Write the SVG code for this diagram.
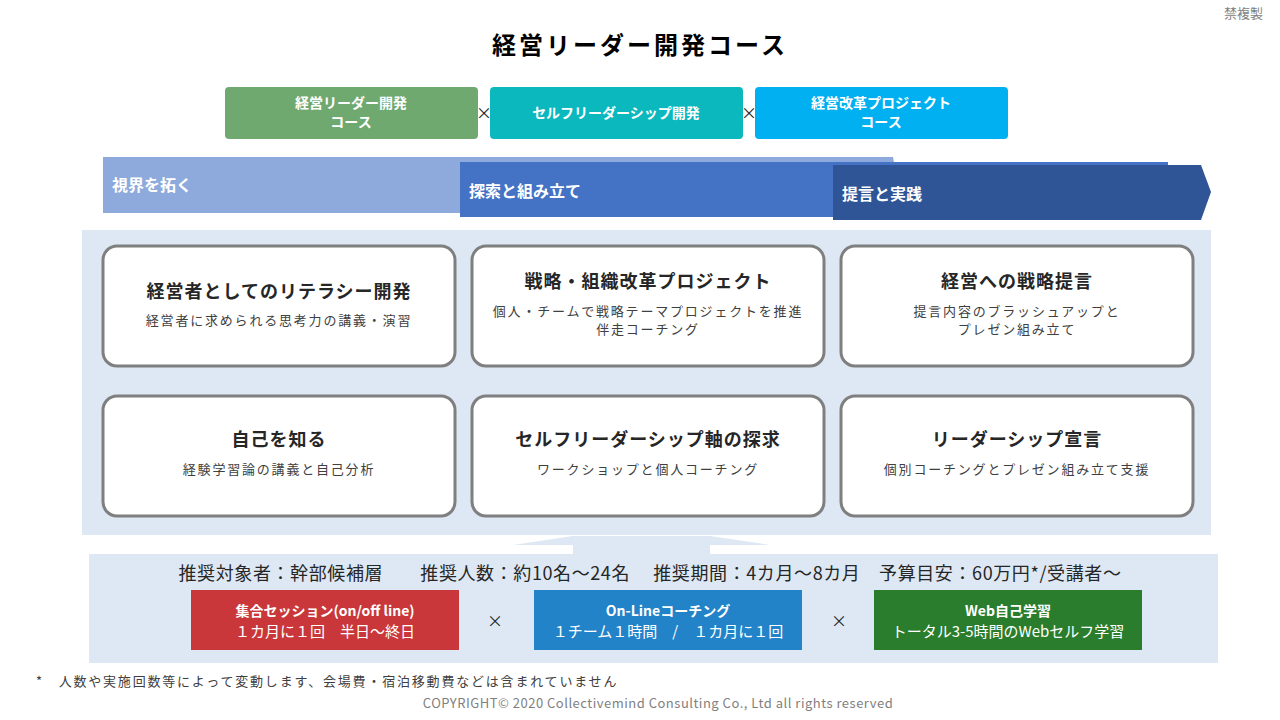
<svg xmlns="http://www.w3.org/2000/svg" width="1280" height="720" viewBox="0 0 1280 720">
<style>
text{font-family:"Noto Sans CJK JP","Noto Sans",sans-serif}
.card{fill:#fff;stroke:#7f7f7f;stroke-width:3}
.ct{font-size:18px;font-weight:bold;fill:#262626;text-anchor:middle;letter-spacing:1px}
.cs{font-size:13px;fill:#404040;text-anchor:middle;letter-spacing:1.8px}
.w{fill:#fff;font-weight:bold;text-anchor:middle;font-size:14px}
.band{fill:#fff;font-weight:bold;font-size:16px}
.x{font-size:16px;fill:#262626;text-anchor:middle}
</style>
<rect width="1280" height="720" fill="#fff"/>
<text x="1263" y="18" font-size="13" fill="#7f7f7f" text-anchor="end">禁複製</text>
<text x="640" y="54" font-size="24" font-weight="bold" fill="#000" text-anchor="middle" letter-spacing="3">経営リーダー開発コース</text>
<g id="top1"><rect x="225" y="87" width="253" height="52" rx="4" fill="#70a96f"/><text class="w" x="351" y="108">経営リーダー開発</text><text class="w" x="351" y="127">コース</text></g>
<text class="x" x="484" y="119" font-size="13">×</text>
<g id="top2"><rect x="490" y="87" width="253" height="52" rx="4" fill="#0bb8be"/><text class="w" x="616" y="118">セルフリーダーシップ開発</text></g>
<text class="x" x="749" y="119" font-size="13">×</text>
<g id="top3"><rect x="755" y="87" width="253" height="52" rx="4" fill="#00b0f0"/><text class="w" x="881" y="108">経営改革プロジェクト</text><text class="w" x="881" y="127">コース</text></g>
<g id="phase1"><polygon points="103,157 893,157 903,213 103,213" fill="#8eaadc"/><text class="band" x="112" y="191">視界を拓く</text></g>
<g id="phase2"><polygon points="460,162 1168,162 1168,217 460,217" fill="#4472c4"/><text class="band" x="469" y="197">探索と組み立て</text></g>
<g id="phase3"><polygon points="833,165 1201,165 1211,192 1201,220 833,220" fill="#2f5597"/><text class="band" x="842" y="200">提言と実践</text></g>
<rect x="82" y="230" width="1129" height="305" fill="#dde8f4"/>
<g id="n1"><rect class="card" x="103" y="246" width="352" height="120" rx="14"/><text class="ct" x="279" y="298">経営者としてのリテラシー開発</text><text class="cs" x="279" y="325">経営者に求められる思考力の講義・演習</text></g>
<g id="n2"><rect class="card" x="472" y="246" width="352" height="120" rx="14"/><text class="ct" x="648" y="288">戦略・組織改革プロジェクト</text><text class="cs" x="648" y="316">個人・チームで戦略テーマプロジェクトを推進</text><text class="cs" x="648" y="334">伴走コーチング</text></g>
<g id="n3"><rect class="card" x="841" y="246" width="352" height="120" rx="14"/><text class="ct" x="1017" y="288">経営への戦略提言</text><text class="cs" x="1017" y="316">提言内容のブラッシュアップと</text><text class="cs" x="1017" y="334">プレゼン組み立て</text></g>
<g id="n4"><rect class="card" x="103" y="396" width="352" height="120" rx="14"/><text class="ct" x="279" y="446">自己を知る</text><text class="cs" x="279" y="474">経験学習論の講義と自己分析</text></g>
<g id="n5"><rect class="card" x="472" y="396" width="352" height="120" rx="14"/><text class="ct" x="648" y="446">セルフリーダーシップ軸の探求</text><text class="cs" x="648" y="474">ワークショップと個人コーチング</text></g>
<g id="n6"><rect class="card" x="841" y="396" width="352" height="120" rx="14"/><text class="ct" x="1017" y="446">リーダーシップ宣言</text><text class="cs" x="1017" y="474">個別コーチングとプレゼン組み立て支援</text></g>
<g id="connectors"><polygon points="513,545 573,536 710,536 770,545 710,545 710,554 573,554 573,545" fill="#dde8f4"/></g>
<rect x="89" y="554" width="1129" height="109" fill="#dde8f4"/>
<text x="650" y="580" font-size="18" fill="#262626" text-anchor="middle" letter-spacing="0.6">推奨対象者：幹部候補層　　推奨人数：約10名～24名　 推奨期間：4カ月～8カ月　予算目安：60万円*/受講者～</text>
<g id="b1"><rect x="191" y="590" width="268" height="60" fill="#c9373a"/><text class="w" x="325" y="616">集合セッション(on/off line)</text><text x="325" y="637" font-size="15" fill="#fff" text-anchor="middle">１カ月に１回　半日～終日</text></g>
<text class="x" x="495" y="627">×</text>
<g id="b2"><rect x="534" y="590" width="268" height="60" fill="#2383c8"/><text class="w" x="668" y="616">On-Lineコーチング</text><text x="668" y="637" font-size="15" fill="#fff" text-anchor="middle">１チーム１時間　/　１カ月に１回</text></g>
<text class="x" x="839" y="627">×</text>
<g id="b3"><rect x="874" y="590" width="268" height="60" fill="#2a7d2c"/><text class="w" x="1008" y="616">Web自己学習</text><text x="1008" y="637" font-size="15" fill="#fff" text-anchor="middle">トータル3-5時間のWebセルフ学習</text></g>
<text x="36" y="686" font-size="13" fill="#404040" letter-spacing="1.8">*　人数や実施回数等によって変動します、会場費・宿泊移動費などは含まれていません</text>
<text x="658" y="708" font-size="13" fill="#7f7f7f" text-anchor="middle" letter-spacing="0.5">COPYRIGHT© 2020 Collectivemind Consulting Co., Ltd  all rights reserved</text>
</svg>
